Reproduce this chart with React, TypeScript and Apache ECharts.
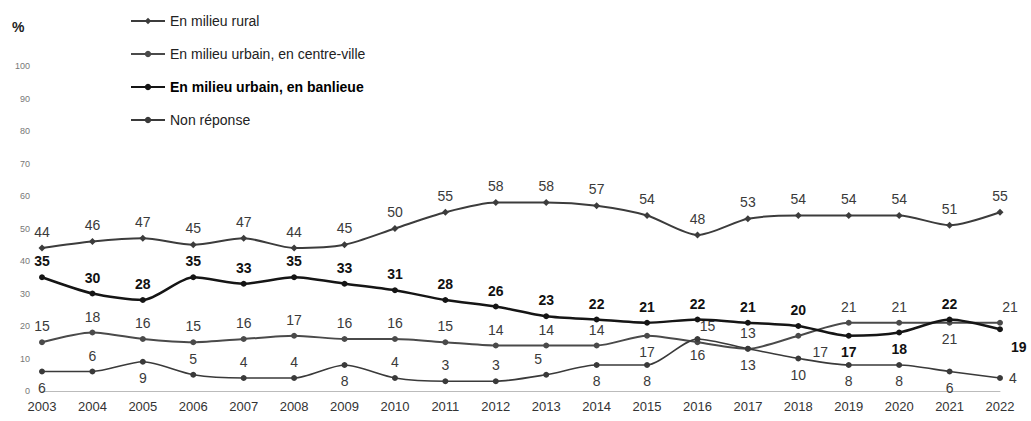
import React, { useEffect, useRef } from "react";
import * as echarts from "echarts";

const years = ["2003","2004","2005","2006","2007","2008","2009","2010","2011","2012","2013","2014","2015","2016","2017","2018","2019","2020","2021","2022"];
const rural = [44,46,47,45,47,44,45,50,55,58,58,57,54,48,53,54,54,54,51,55];
const centreVille = [15,18,16,15,16,17,16,16,15,14,14,14,17,15,13,17,21,21,21,21];
const banlieue = [35,30,28,35,33,35,33,31,28,26,23,22,21,22,21,20,17,18,22,19];
const nonReponse = [6,6,9,5,4,4,8,4,3,3,5,8,8,16,13,10,8,8,6,4];
const seriesNames = ["En milieu rural", "En milieu urbain, en centre-ville", "En milieu urbain, en banlieue", "Non réponse"];

// label placement per point: t = top, b = bottom, tr = top-right, br = bottom-right, r = right
const ruralPlace = years.map(() => "t");
const centrePlace = ["t","t","t","t","t","t","t","t","t","t","t","t","b","tr","t","br","t","t","b","tr"];
const banlieuePlace = ["t","t","t","t","t","t","t","t","t","t","t","t","t","t","t","t","b","b","t","br2"];
const nonRepPlace = ["b","t","b","t","t","t","b","t","t","t","tl","b","b","b","b","b","b","b","b","r"];

const FONT = "Liberation Sans, Arial, sans-serif";

function labelFor(p: string, bold: boolean) {
  const base: any = {
    show: true,
    fontSize: 14,
    fontFamily: FONT,
    color: bold ? "#111" : "#3a3a3a",
    fontWeight: bold ? "bold" : "normal",
    distance: 6,
  };
  switch (p) {
    case "b": return { ...base, position: "bottom" };
    case "tr": return { ...base, position: "top", offset: [10, 0] };
    case "tl": return { ...base, position: "top", offset: [-8, 0] };
    case "br": return { ...base, position: "bottom", offset: [22, 0] };
    case "br2": return { ...base, position: "right", offset: [2, 18] };
    case "r": return { ...base, position: "right" };
    default: return { ...base, position: "top" };
  }
}

function mkData(vals: number[], place: string[], bold: boolean) {
  return vals.map((v, i) => ({ value: v, label: labelFor(place[i], bold) }));
}

export default function App() {
  const ref = useRef<HTMLDivElement>(null);
  useEffect(() => {
    const chart = echarts.init(ref.current!, null, { renderer: "svg" });
    chart.setOption({
      animation: false,
      backgroundColor: "#fff",
      textStyle: { fontFamily: FONT },
      graphic: [
        { type: "text", left: 12, top: 20, style: { text: "%", fontSize: 14, fontWeight: "bold", fill: "#222", fontFamily: FONT } },
      ],
      legend: {
        orient: "vertical",
        left: 125,
        top: 9,
        itemGap: 19,
        itemWidth: 34,
        itemHeight: 8,
        textStyle: { fontSize: 14, color: "#222", fontFamily: FONT },
        data: [
          { name: seriesNames[0] },
          { name: seriesNames[1] },
          { name: seriesNames[2], textStyle: { fontWeight: "bold", color: "#000" } },
          { name: seriesNames[3] },
        ],
      },
      grid: { left: 42, right: 31, top: 66, bottom: 30 },
      xAxis: {
        type: "category",
        data: years,
        boundaryGap: false,
        axisLine: { lineStyle: { color: "#bbb", width: 1 } },
        axisTick: { show: false },
        axisLabel: { fontSize: 13, color: "#333", margin: 9, fontFamily: FONT },
      },
      yAxis: {
        type: "value",
        min: 0,
        max: 100,
        interval: 10,
        axisLine: { show: false },
        axisTick: { show: false },
        splitLine: { show: false },
        axisLabel: { fontSize: 9, color: "#777", margin: 12, fontFamily: FONT },
      },
      series: [
        {
          name: seriesNames[0], type: "line", data: mkData(rural, ruralPlace, false),
          symbol: "diamond", symbolSize: 7, smooth: 0.25,
          lineStyle: { color: "#3c3c3c", width: 2 }, itemStyle: { color: "#3c3c3c" },
        },
        {
          name: seriesNames[1], type: "line", data: mkData(centreVille, centrePlace, false),
          symbol: "circle", symbolSize: 6, smooth: 0.25,
          lineStyle: { color: "#4a4a4a", width: 2 }, itemStyle: { color: "#4a4a4a" },
        },
        {
          name: seriesNames[2], type: "line", data: mkData(banlieue, banlieuePlace, true),
          symbol: "circle", symbolSize: 6, smooth: 0.25,
          lineStyle: { color: "#151515", width: 2.5 }, itemStyle: { color: "#151515" },
        },
        {
          name: seriesNames[3], type: "line", data: mkData(nonReponse, nonRepPlace, false),
          symbol: "circle", symbolSize: 6, smooth: 0.25,
          lineStyle: { color: "#3a3a3a", width: 1.6 }, itemStyle: { color: "#3a3a3a" },
        },
      ],
    });
    return () => chart.dispose();
  }, []);
  return <div ref={ref} style={{ position: "fixed", left: 0, top: 0, width: 1031, height: 421 }} />;
}
